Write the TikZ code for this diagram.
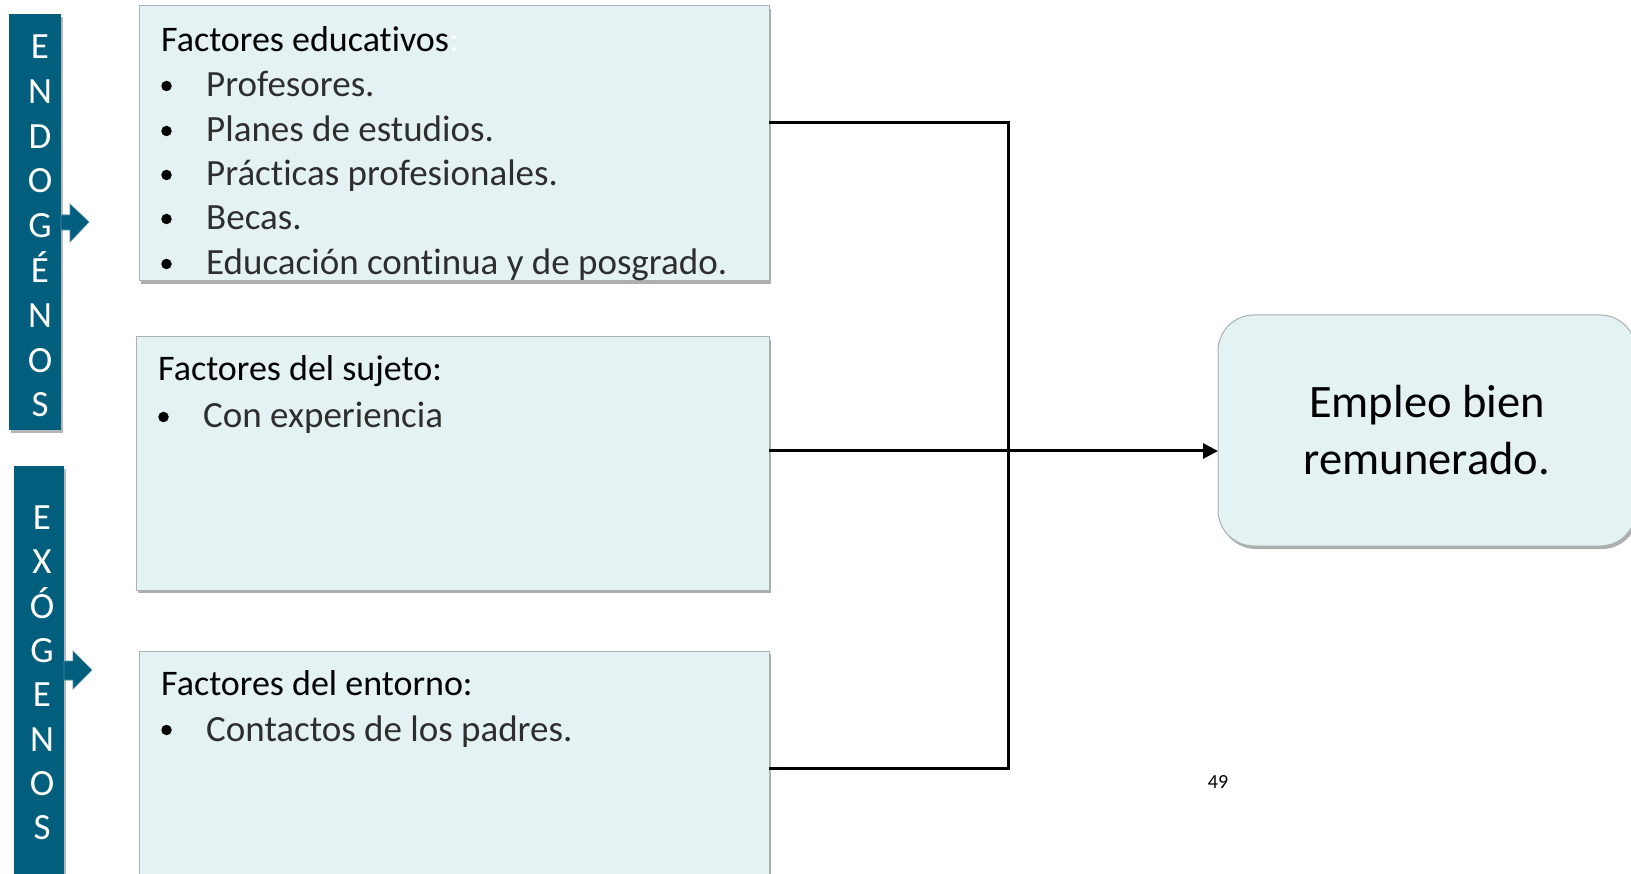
\documentclass[tikz,border=0pt]{standalone}
\usepackage{fontspec}
\setmainfont{Carlito}[Ligatures={NoCommon}]
\usetikzlibrary{shadows,arrows.meta,calc}
\definecolor{tealbar}{RGB}{2,94,125}
\definecolor{boxfill}{RGB}{228,242,244}
\definecolor{boxline}{RGB}{168,178,180}
\tikzset{
  factbox/.style={draw=boxline, line width=1pt, fill=boxfill, inner sep=0pt, outer sep=0pt,
    drop shadow={shadow xshift=2pt, shadow yshift=-3pt, opacity=0.45, fill=black!70}},
  sidebar/.style={fill=tealbar, inner sep=0pt, outer sep=0pt,
    drop shadow={shadow xshift=2pt, shadow yshift=-3pt, opacity=0.4, fill=black!70}},
  vletters/.style={text=white, align=center, inner sep=0pt, font=\fontsize{37}{44.8}\selectfont},
  blockarrow/.style={fill=tealbar, draw=tealbar!70!white, line width=0.6pt},
  titletxt/.style={anchor=base west, inner sep=0pt, font=\fontsize{36}{42}\selectfont},
  itemtxt/.style={anchor=base west, inner sep=0pt, text=black!82, font=\fontsize{37}{44}\selectfont},
  bul/.style={circle, fill=black, inner sep=0pt, minimum size=10.5pt},
  conn/.style={line width=3pt, draw=black},
}
\begin{document}
\begin{tikzpicture}[x=1pt, y=-1pt]
\useasboundingbox[fill=white] (0,0) rectangle (1631,874);

% side bars
\node[sidebar, minimum width=52pt, minimum height=416pt] (endo) at (35.2,222) {};
\node[vletters] (endot) at (40,226) {E\\N\\D\\O\\G\\É\\N\\O\\S};
\node[sidebar, minimum width=50pt, minimum height=418pt] (exo) at (39,675) {};
\node[vletters, font=\fontsize{37}{44.3}\selectfont] (exot) at (42,673) {E\\X\\Ó\\G\\E\\N\\O\\S};

% block arrows
\path[blockarrow] (61,215) -- (70,215) -- (70,204) -- (89,222) -- (70,242) -- (70,230) -- (61,230) -- cycle;
\path[blockarrow] (64,661) -- (73,661) -- (73,651) -- (92,670) -- (73,689) -- (73,680) -- (64,680) -- cycle;

% factor boxes
\node[factbox, minimum width=630pt, minimum height=275pt] (b1) at (454,143.5) {};
\node[factbox, minimum width=633pt, minimum height=253pt] (b2) at (452.5,463.5) {};
\node[factbox, minimum width=630pt, minimum height=239pt] (b3) at (454,770.5) {};

% box 1 text
\node[titletxt] (t1) at (161,52) {Factores educativos\textcolor{white}{:}};
\node[bul] (p1) at (166.5,86) {};
\node[itemtxt] (i1) at (206,97) {Profesores.};
\node[bul] (p2) at (166.5,131) {};
\node[itemtxt] (i2) at (206,142) {Planes de estudios.};
\node[bul] (p3) at (166.5,175) {};
\node[itemtxt] (i3) at (206,186) {Prácticas profesionales.};
\node[bul] (p4) at (166.5,219) {};
\node[itemtxt] (i4) at (206,230) {Becas.};
\node[bul] (p5) at (166.5,264) {};
\node[itemtxt] (i5) at (206,275) {Educación continua y de posgrado.};

% box 2 text
\node[titletxt] (t2) at (158,381) {Factores del sujeto:};
\node[bul] (q1) at (163.5,417) {};
\node[itemtxt] (k1) at (203,428) {Con experiencia};

% box 3 text
\node[titletxt] (t3) at (161,695) {Factores del entorno:};
\node[bul] (r1) at (166.5,730) {};
\node[itemtxt] (m1) at (206,741) {Contactos de los padres.};

% result box
\node[factbox, rounded corners=36pt, minimum width=418pt, minimum height=231pt,
      align=center, font=\fontsize{46.5}{57}\selectfont] (res) at (1427,430.5)
      {Empleo bien\\remunerado.};

% page number
\node[inner sep=0pt, font=\fontsize{20}{24}\selectfont] (pg) at (1218,782) {49};

% connectors
\coordinate (j1) at (1008,123);
\coordinate (j2) at (1008,451);
\coordinate (j3) at (1008,768);
\draw[conn] (b1.east |- j1) -- (j1) -- (j3) -- (b3.east |- j3);
\draw[conn] (b2.east |- j2) -- (j2);
\draw[conn, -{Triangle[length=15pt, width=15pt]}] (j2) -- (res.west |- j2);
\end{tikzpicture}
\end{document}
